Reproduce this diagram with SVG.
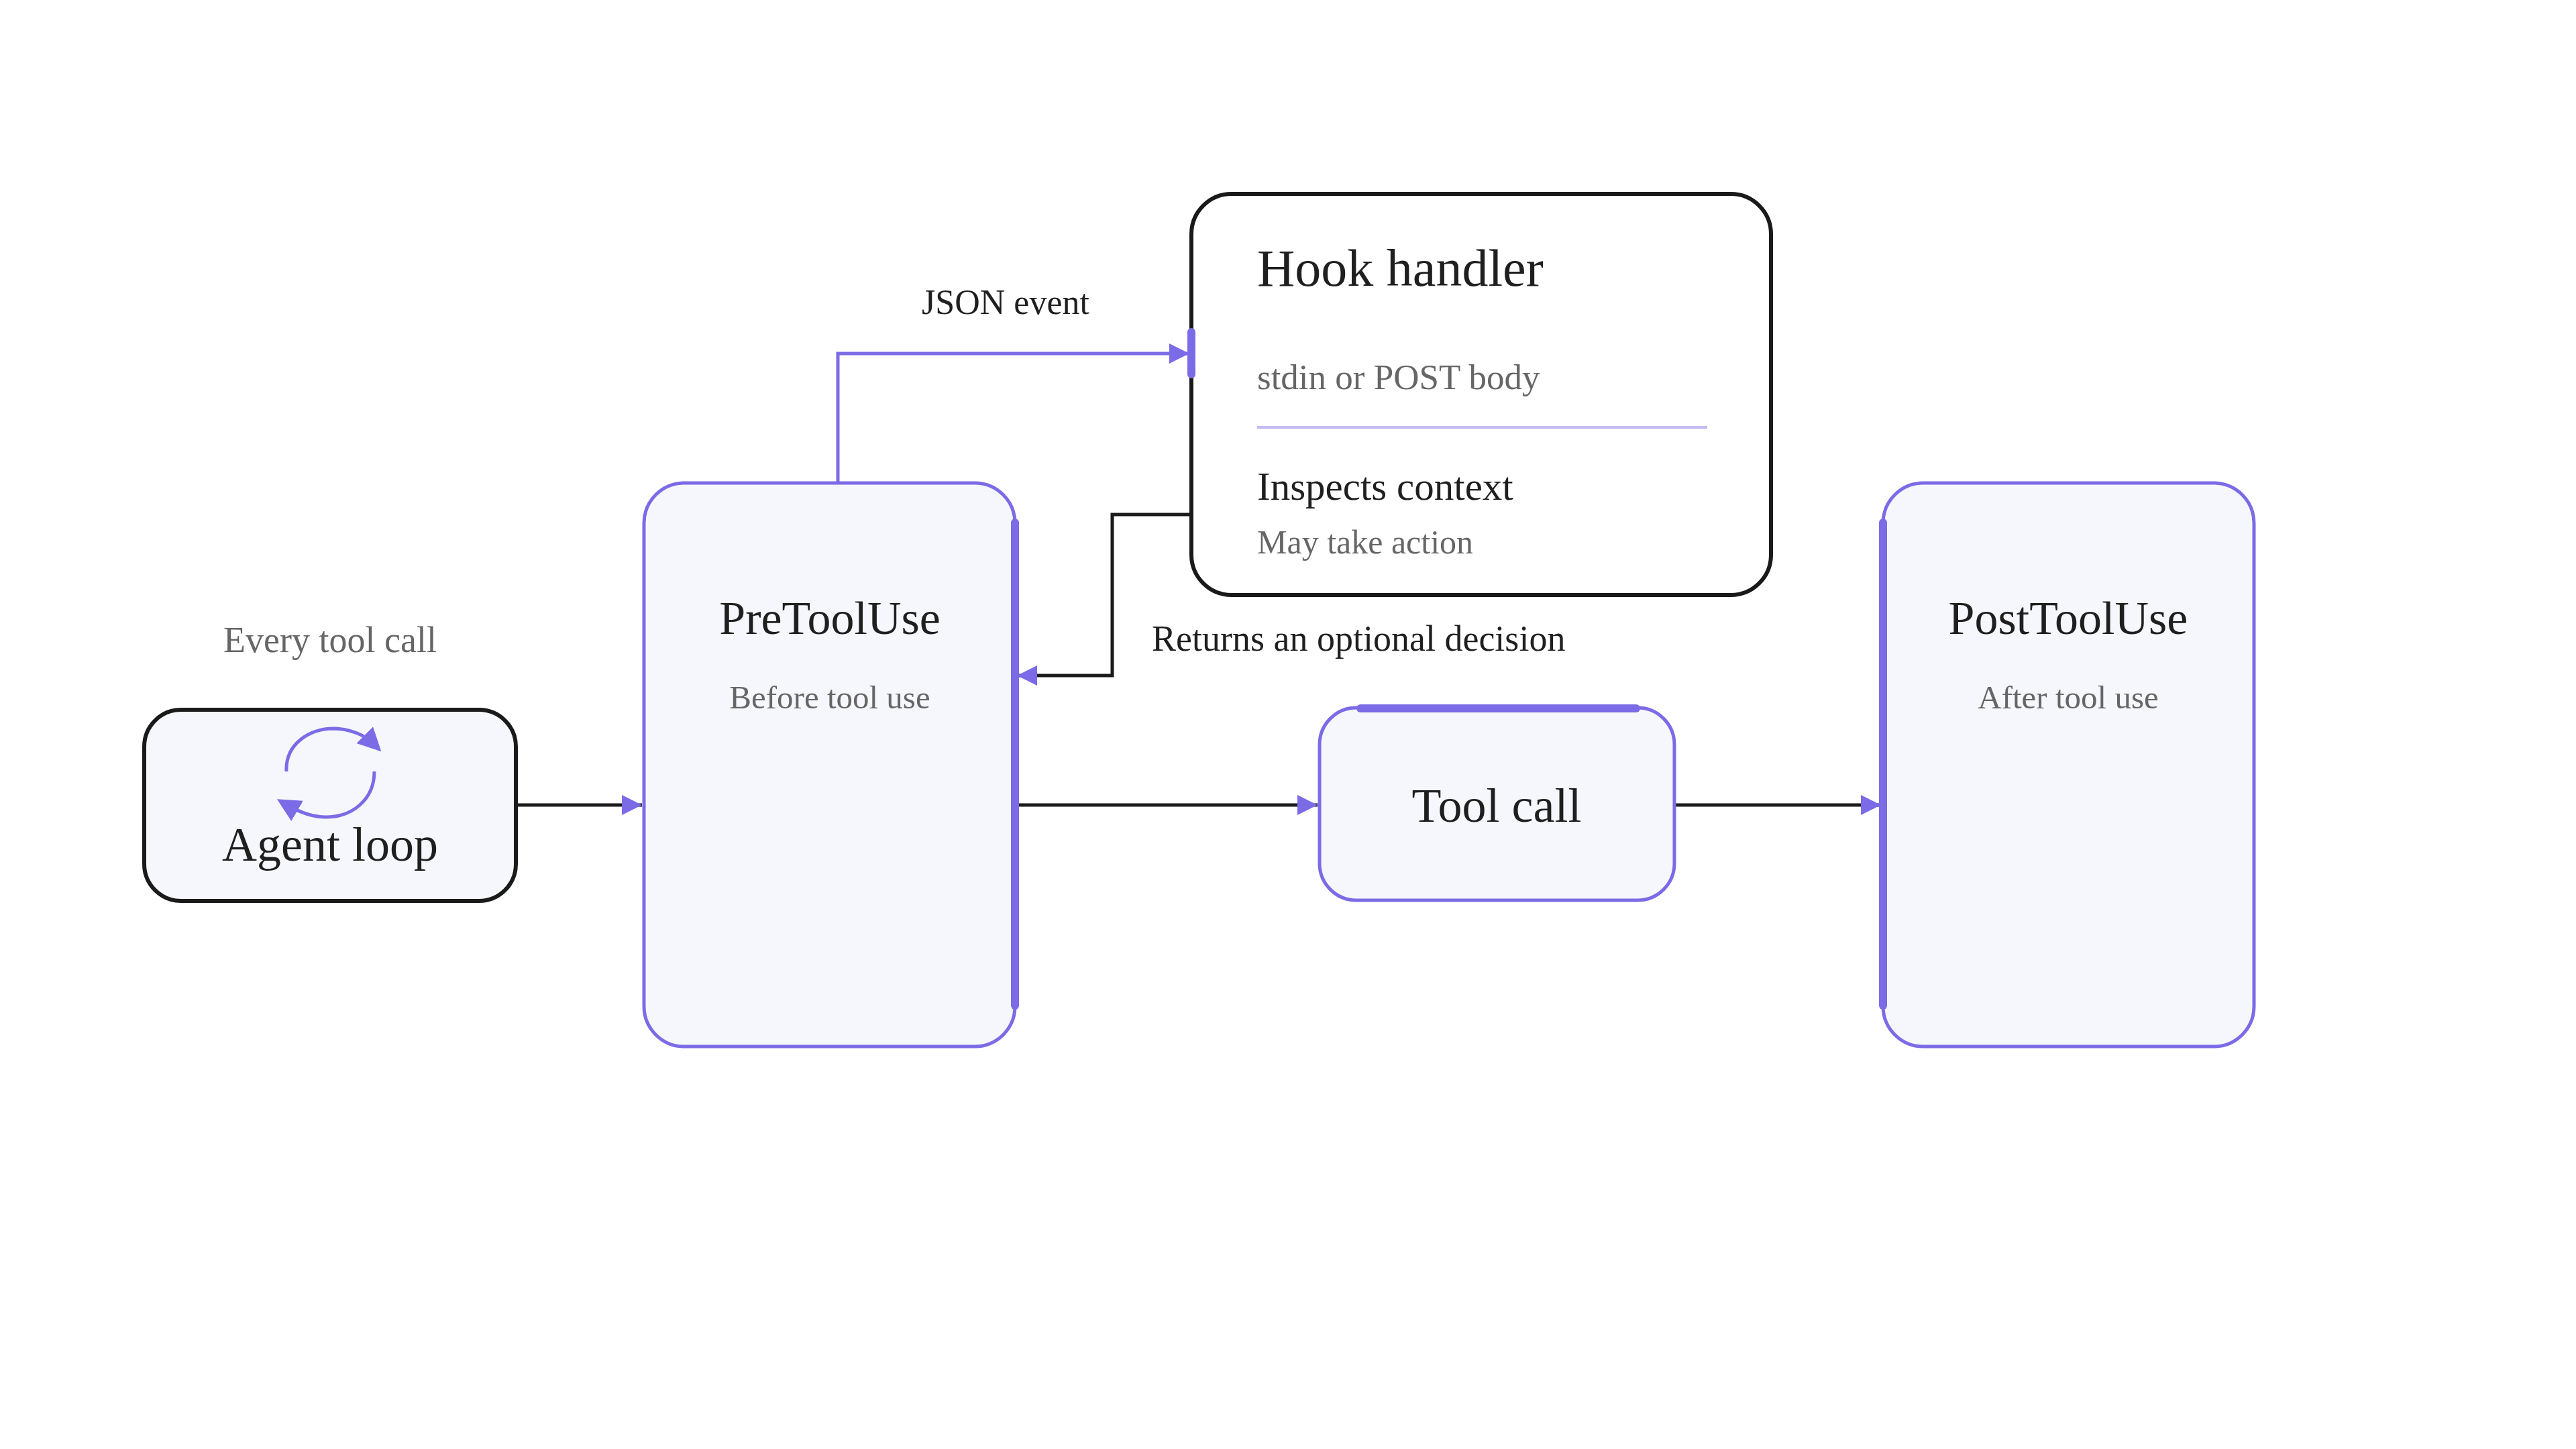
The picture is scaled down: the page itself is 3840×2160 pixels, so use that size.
<svg xmlns="http://www.w3.org/2000/svg" width="3840" height="2160" viewBox="0 0 3840 2160">
<defs>
<style>
text{font-family:"Liberation Serif","DejaVu Serif",serif;fill:#1f1f1f}
.g{fill:#666}
.pbox{fill:#f6f7fc;stroke:#7b6be6;stroke-width:5}
.kbox{stroke:#1a1a1a;stroke-width:6}
.bar{stroke:#7b6be6;stroke-width:12;stroke-linecap:round}
.k{fill:none;stroke:#1a1a1a;stroke-width:5}
.p{fill:none;stroke:#7b6be6;stroke-width:5}
</style>
<marker id="ah" viewBox="0 0 10 10" refX="10" refY="5" markerWidth="6" markerHeight="6" markerUnits="strokeWidth" orient="auto"><path d="M0,0L10,5L0,10z" fill="#7b6be6"/></marker>
<marker id="ah2" viewBox="0 0 10 10" refX="5" refY="5" markerWidth="7" markerHeight="7" markerUnits="strokeWidth" orient="auto"><path d="M0,0L10,5L0,10z" fill="#7b6be6"/></marker>
</defs>
<rect width="3840" height="2160" fill="#fff"/>
<g id="connectors">
<path class="k" d="M769,1200H957" marker-end="url(#ah)"/>
<path class="p" d="M1249,720V527H1773" marker-end="url(#ah)"/>
<path class="k" d="M1776,767H1658V1007H1516" marker-end="url(#ah)"/>
<path class="k" d="M1513,1200H1964" marker-end="url(#ah)"/>
<path class="k" d="M2496,1200H2804" marker-end="url(#ah)"/>
<text x="1499" y="468" font-size="52" text-anchor="middle">JSON event</text>
<text x="1717" y="970" font-size="54">Returns an optional decision</text>
</g>
<g id="agent-loop">
<text x="492" y="972" font-size="54" text-anchor="middle" class="g">Every tool call</text>
<rect class="kbox" x="215" y="1058" width="554" height="285" rx="55" fill="#f6f7fc"/>
<path class="p" d="M427,1150C425,1110 460,1086 498,1086C525,1087 545,1097 556,1108" marker-end="url(#ah2)"/>
<path class="p" d="M558,1150C558,1192 525,1218 486,1218C462,1218 440,1207 428,1200" marker-end="url(#ah2)"/>
<text x="492" y="1283" font-size="72" text-anchor="middle">Agent loop</text>
</g>
<g id="pretooluse">
<rect class="pbox" x="960" y="720" width="553" height="840" rx="60"/>
<line class="bar" x1="1513" y1="779" x2="1513" y2="1499"/>
<text x="1237" y="945" font-size="70" text-anchor="middle">PreToolUse</text>
<text x="1237" y="1056" font-size="49" text-anchor="middle" class="g">Before tool use</text>
</g>
<g id="hook-handler">
<rect class="kbox" x="1776" y="289" width="864" height="598" rx="60" fill="#fff"/>
<line class="bar" x1="1776" y1="495" x2="1776" y2="558"/>
<text x="1874" y="426" font-size="78">Hook handler</text>
<text x="1874" y="580" font-size="53" class="g">stdin or POST body</text>
<line x1="1874" y1="637" x2="2545" y2="637" stroke="#c4b8f7" stroke-width="4"/>
<text x="1874" y="745" font-size="59">Inspects context</text>
<text x="1874" y="825" font-size="50" class="g">May take action</text>
</g>
<g id="tool-call">
<rect class="pbox" x="1967" y="1055" width="529" height="287" rx="55"/>
<line class="bar" x1="2028" y1="1056" x2="2439" y2="1056"/>
<text x="2231" y="1225" font-size="72" text-anchor="middle">Tool call</text>
</g>
<g id="posttooluse">
<rect class="pbox" x="2807" y="720" width="553" height="840" rx="60"/>
<line class="bar" x1="2807" y1="779" x2="2807" y2="1499"/>
<text x="3083" y="945" font-size="70" text-anchor="middle">PostToolUse</text>
<text x="3083" y="1056" font-size="49" text-anchor="middle" class="g">After tool use</text>
</g>
</svg>
